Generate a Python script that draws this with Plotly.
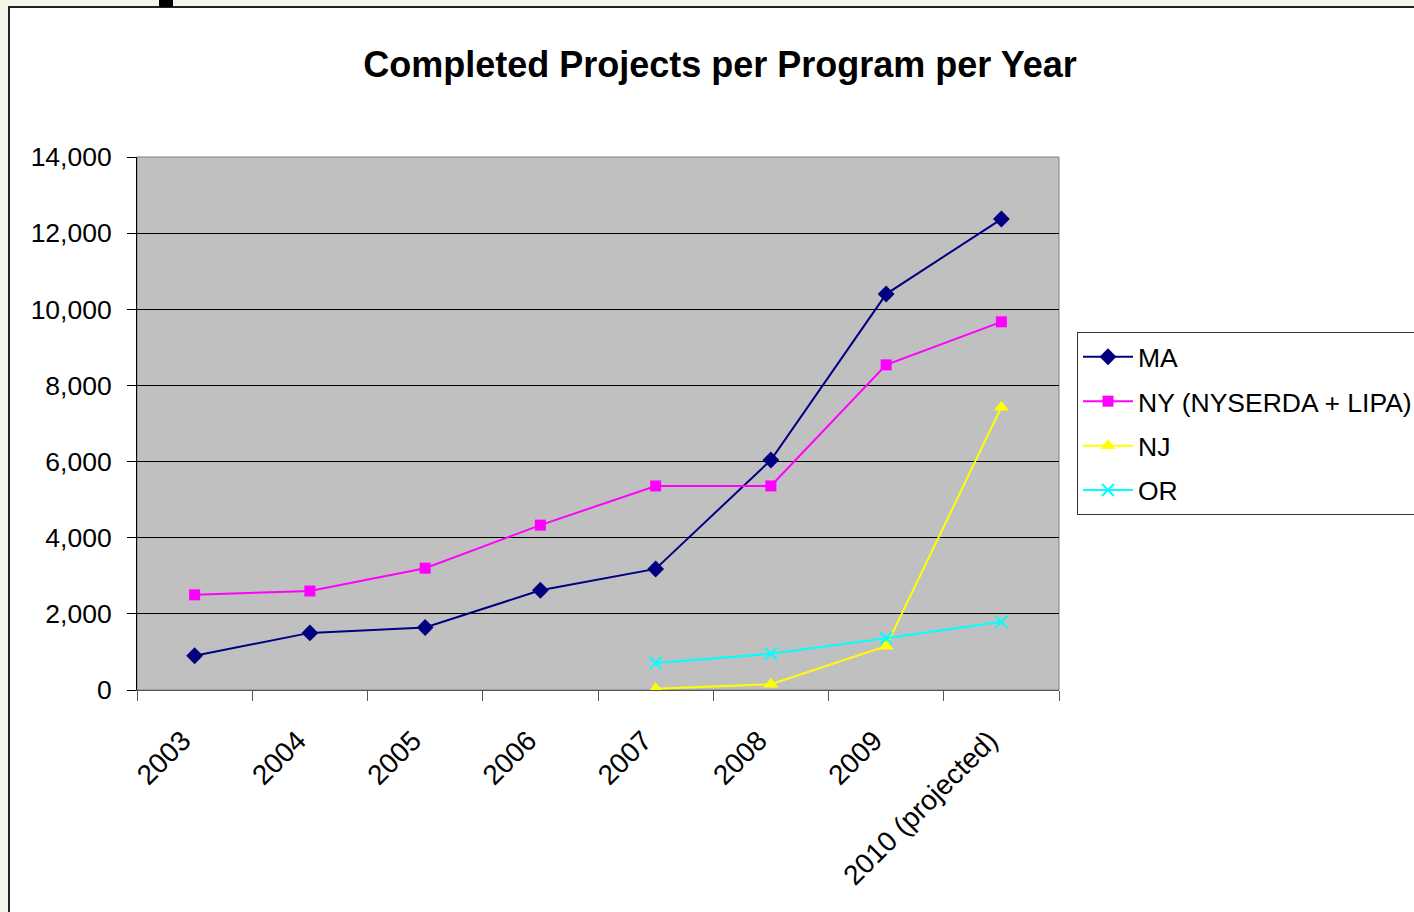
import plotly.graph_objects as go

years = ["2003", "2004", "2005", "2006", "2007", "2008", "2009", "2010 (projected)"]
ma = [900, 1500, 1640, 2620, 3180, 6040, 10400, 12370]
ny = [2500, 2600, 3200, 4330, 5360, 5360, 8540, 9670]
nj_years = ["2007", "2008", "2009", "2010 (projected)"]
nj = [30, 150, 1150, 7430]
or_years = ["2007", "2008", "2009", "2010 (projected)"]
orv = [710, 950, 1360, 1790]

W, H = 1440, 912
L, R, T, B = 137, 1059, 157, 690

def px(x):
    return (x - L) / (R - L)

def py(y):
    return (B - y) / (B - T)

FONT = "Arial, Liberation Sans, sans-serif"

fig = go.Figure()
fig.add_trace(go.Scatter(x=years, y=ma, name="MA", mode="lines+markers", legendgroup="a",
                         line=dict(color="#000080", width=2),
                         marker=dict(symbol="diamond", size=13, color="#000080")))
fig.add_trace(go.Scatter(x=years, y=ny, name="NY (NYSERDA + LIPA)", mode="lines+markers", legendgroup="b",
                         line=dict(color="#ff00ff", width=2),
                         marker=dict(symbol="square", size=11, color="#ff00ff")))
fig.add_trace(go.Scatter(x=nj_years, y=nj, name="NJ", mode="lines+markers", legendgroup="c",
                         line=dict(color="#ffff00", width=2),
                         marker=dict(symbol="triangle-up", size=13, color="#ffff00")))
fig.add_trace(go.Scatter(x=or_years, y=orv, name="OR", mode="lines+markers", legendgroup="d",
                         line=dict(color="#00ffff", width=2),
                         marker=dict(symbol="x-thin", size=12, color="#00ffff",
                                     line=dict(color="#00ffff", width=2))))

shapes = [
    dict(type="rect", xref="paper", yref="paper", layer="below",
         x0=px(9), x1=px(1460), y0=py(930), y1=py(7),
         fillcolor="white", line=dict(color="#222222", width=2)),
    dict(type="rect", xref="paper", yref="paper", layer="below",
         x0=px(159), x1=px(173), y0=py(7), y1=py(-2),
         fillcolor="black", line=dict(width=0)),
    dict(type="rect", xref="paper", yref="paper", layer="below",
         x0=0, x1=1, y0=0, y1=1,
         fillcolor="#c0c0c0", line=dict(color="#808080", width=1)),
]

fig.update_layout(
    width=W, height=H,
    margin=dict(l=L, r=W - R, t=T, b=H - B, pad=0),
    paper_bgcolor="#f2f7ea",
    plot_bgcolor="#c0c0c0",
    font=dict(family=FONT, color="black", size=26),
    title=dict(text="<b>Completed Projects per Program per Year</b>",
               x=720 / W, xref="container", xanchor="center",
               y=1 - 64 / H, yref="container", yanchor="middle",
               font=dict(family=FONT, size=36, color="black")),
    shapes=shapes,
    showlegend=True,
    legend=dict(x=px(1077), y=py(332), xanchor="left", yanchor="top",
                bgcolor="white", bordercolor="#333333", borderwidth=1,
                font=dict(family=FONT, size=26.5, color="black"),
                traceorder="grouped", tracegroupgap=7, itemwidth=50),
    xaxis=dict(type="category", categoryorder="array", categoryarray=years,
               range=[-0.5, 7.5], tickson="boundaries", ticks="outside",
               ticklen=10, tickcolor="#555555", tickwidth=1,
               showline=True, linecolor="#555555", linewidth=1,
               showgrid=False, tickangle=-45, automargin=False,
               ticklabelstandoff=22, ticklabelshift=-12,
               tickfont=dict(family=FONT, size=28, color="black")),
    yaxis=dict(range=[0, 14000], dtick=2000, tickformat=",", ticks="outside",
               ticklen=9, tickcolor="black", tickwidth=1,
               showline=True, linecolor="black", linewidth=1,
               showgrid=True, gridcolor="black", gridwidth=1, zeroline=False,
               automargin=False, ticklabelstandoff=10,
               tickfont=dict(family=FONT, size=26.5, color="black")),
)

fig.write_html(
    "out.html",
    config={"displayModeBar": False},
    post_script=(
        "document.body.style.margin='0';"
        "document.body.style.overflow='hidden';"
        "document.documentElement.style.overflow='hidden';"
    ),
)
